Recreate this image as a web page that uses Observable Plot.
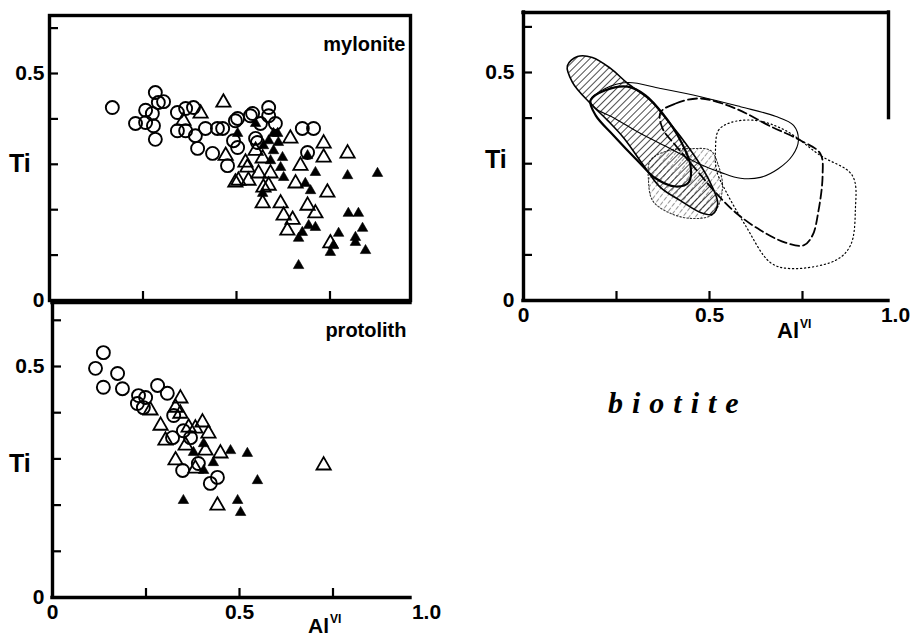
<!DOCTYPE html>
<html><head><meta charset="utf-8">
<script src="https://cdn.jsdelivr.net/npm/d3@7"></script>
<script src="https://cdn.jsdelivr.net/npm/@observablehq/plot@0.6"></script>
<style>
html,body{margin:0;padding:0;background:#fff;}
#root{position:relative;width:915px;height:637px;overflow:hidden;font-family:"Liberation Sans",Arial,sans-serif;}
.panel{position:absolute;}
.panel svg{overflow:visible;}
.lbl{position:absolute;font-weight:bold;color:#000;line-height:1;white-space:nowrap;font-family:"Liberation Sans",Arial,sans-serif;}
</style></head><body><div id="root"></div>
<script>
// ---------- data: mylonite (Al VI, Ti) ----------
const mylCircles = [[0.168,0.425],[0.283,0.458],[0.291,0.436],[0.305,0.438],[0.257,0.419],[0.275,0.412],[0.230,0.390],[0.257,0.392],[0.278,0.385],[0.283,0.355],[0.342,0.414],[0.364,0.423],[0.385,0.425],[0.342,0.374],[0.364,0.374],[0.390,0.363],[0.417,0.379],[0.449,0.379],[0.463,0.379],[0.497,0.396],[0.537,0.407],[0.396,0.335],[0.436,0.324],[0.476,0.297],[0.503,0.337],[0.556,0.348],[0.543,0.412],[0.586,0.425],[0.586,0.407],[0.503,0.401],[0.564,0.390],[0.604,0.390],[0.676,0.379],[0.706,0.379],[0.690,0.326],[0.551,0.357],[0.492,0.352]];
const mylOpenTri = [[0.465,0.436],[0.404,0.412],[0.358,0.396],[0.471,0.319],[0.524,0.304],[0.505,0.264],[0.532,0.264],[0.559,0.280],[0.644,0.357],[0.733,0.346],[0.733,0.315],[0.797,0.324],[0.671,0.297],[0.529,0.293],[0.497,0.260],[0.572,0.249],[0.591,0.280],[0.658,0.258],[0.743,0.238],[0.570,0.214],[0.618,0.214],[0.690,0.209],[0.711,0.192],[0.626,0.187],[0.650,0.178],[0.636,0.154],[0.751,0.126],[0.586,0.253],[0.551,0.330],[0.570,0.313]];
const mylFilledTri = [[0.551,0.390],[0.503,0.368],[0.599,0.368],[0.612,0.348],[0.572,0.341],[0.599,0.330],[0.623,0.315],[0.591,0.308],[0.618,0.293],[0.626,0.271],[0.690,0.319],[0.711,0.282],[0.797,0.275],[0.877,0.280],[0.684,0.258],[0.698,0.242],[0.570,0.236],[0.799,0.192],[0.826,0.192],[0.693,0.165],[0.711,0.161],[0.676,0.150],[0.666,0.137],[0.773,0.148],[0.759,0.121],[0.751,0.106],[0.837,0.159],[0.818,0.139],[0.818,0.128],[0.845,0.110],[0.666,0.077],[0.586,0.352],[0.610,0.368]];
// ---------- data: protolith ----------
const protoCircles = [[0.136,0.530],[0.115,0.496],[0.174,0.485],[0.136,0.455],[0.187,0.452],[0.230,0.437],[0.281,0.459],[0.307,0.442],[0.227,0.420],[0.249,0.433],[0.243,0.411],[0.324,0.394],[0.350,0.361],[0.369,0.346],[0.321,0.346],[0.348,0.275],[0.422,0.247],[0.441,0.260],[0.390,0.290]];
const protoOpenTri = [[0.342,0.431],[0.329,0.411],[0.262,0.405],[0.342,0.398],[0.401,0.379],[0.417,0.355],[0.302,0.340],[0.382,0.366],[0.364,0.368],[0.449,0.312],[0.382,0.279],[0.441,0.199],[0.725,0.286],[0.329,0.297],[0.409,0.318],[0.289,0.372],[0.356,0.329]];
const protoFilledTri = [[0.476,0.318],[0.521,0.312],[0.404,0.333],[0.377,0.314],[0.404,0.275],[0.548,0.253],[0.350,0.210],[0.495,0.210],[0.503,0.184],[0.430,0.292]];
// ---------- data: biotite field outlines ----------
const hatchMain = [[0.118,0.515],[0.145,0.535],[0.185,0.533],[0.234,0.509],[0.280,0.476],[0.341,0.439],[0.387,0.395],[0.430,0.351],[0.468,0.307],[0.503,0.257],[0.522,0.213],[0.508,0.189],[0.476,0.193],[0.422,0.219],[0.368,0.248],[0.323,0.296],[0.269,0.357],[0.226,0.395],[0.180,0.432],[0.132,0.478]];
const hatchLower = [[0.341,0.307],[0.390,0.329],[0.449,0.333],[0.503,0.329],[0.524,0.296],[0.535,0.252],[0.524,0.208],[0.503,0.186],[0.449,0.180],[0.390,0.193],[0.347,0.219],[0.336,0.263]];
const boldEllipse = [[0.180,0.439],[0.220,0.461],[0.280,0.469],[0.328,0.450],[0.374,0.410],[0.422,0.351],[0.449,0.296],[0.444,0.259],[0.409,0.250],[0.355,0.268],[0.306,0.307],[0.242,0.362],[0.194,0.406]];
const thinContour = [[0.180,0.439],[0.220,0.465],[0.280,0.478],[0.368,0.465],[0.476,0.447],[0.583,0.425],[0.677,0.404],[0.726,0.384],[0.739,0.351],[0.723,0.318],[0.685,0.289],[0.637,0.270],[0.583,0.268],[0.530,0.281],[0.476,0.298],[0.395,0.333],[0.315,0.366],[0.242,0.401],[0.194,0.421]];
const dashedContour = [[0.368,0.412],[0.409,0.432],[0.476,0.443],[0.570,0.421],[0.664,0.382],[0.745,0.351],[0.798,0.322],[0.804,0.274],[0.793,0.197],[0.777,0.143],[0.753,0.121],[0.704,0.127],[0.637,0.154],[0.570,0.193],[0.516,0.237],[0.462,0.289],[0.409,0.340],[0.374,0.377]];
const dottedContour = [[0.516,0.329],[0.524,0.373],[0.556,0.390],[0.624,0.395],[0.704,0.373],[0.798,0.318],[0.884,0.274],[0.892,0.197],[0.879,0.121],[0.839,0.088],[0.718,0.070],[0.664,0.083],[0.597,0.164],[0.543,0.241],[0.519,0.285]];
// ---------- ticks ----------
const yTicks = [0.1,0.2,0.3,0.4,0.5,0.6];
const xTicks = [0.25,0.5,0.75];
const yTickLabels = [0,0.5];
const xTickLabels = [0,0.5,1.0];
const fmt = d => d === 0 ? "0" : d.toFixed(1);

const root = document.getElementById("root");
const FONT = "Liberation Sans, Arial, sans-serif";
const X = d => d[0], Y = d => d[1];

function place(el, left, top){
  const w = document.createElement("div");
  w.className = "panel"; w.style.left = left+"px"; w.style.top = top+"px";
  w.appendChild(el); root.appendChild(w); return w;
}
function label(html, left, top, size, extra){
  const d = document.createElement("div");
  d.className = "lbl"; d.innerHTML = html;
  d.style.left = left+"px"; d.style.top = top+"px"; d.style.fontSize = size+"px";
  if (extra) Object.assign(d.style, extra);
  root.appendChild(d);
}
function tickMarks(innerW, innerH, len){
  return [
    Plot.tickY(yTicks, {y: d=>d, insetRight: innerW - len, strokeWidth: 2.2}),
    Plot.tickX(xTicks, {x: d=>d, insetTop: innerH - len, strokeWidth: 2.2})
  ];
}
function textOpts(extra){ return Object.assign({fontSize: 21, fontWeight: "bold", fill: "#000"}, extra); }
function scatterMarks(c, o, f){
  return [
    Plot.dot(c, {x: X, y: Y, r: 6.5, stroke: "#000", strokeWidth: 1.9, fill: "none"}),
    Plot.dot(o, {x: X, y: Y, symbol: "triangle", r: 5.3, stroke: "#000", strokeWidth: 1.8, fill: "none"}),
    Plot.dot(f, {x: X, y: Y, symbol: "triangle", r: 3.9, fill: "#000", stroke: "#000", strokeWidth: 0.6})
  ];
}
const lw = 3.4;

// ---------- top-left: mylonite ----------
{
  const W = 450, H = 330, mL = 49, mR = 40, mT = 15, mB = 30;
  const xMax = (W - mL - mR)/374, yMax = (H - mT - mB)/454;
  const svg = Plot.plot({
    width: W, height: H, marginLeft: mL, marginRight: mR, marginTop: mT, marginBottom: mB,
    style: {fontFamily: FONT, background: "transparent", overflow: "visible"},
    x: {domain: [0, xMax], axis: null}, y: {domain: [0, yMax], axis: null},
    marks: [
      ...tickMarks(W-mL-mR, H-mT-mB, 9),
      ...scatterMarks(mylCircles, mylOpenTri, mylFilledTri),
      Plot.frame({stroke: "#000", strokeWidth: lw}),
      Plot.text(yTickLabels, textOpts({y: d=>d, text: fmt, frameAnchor: "left", textAnchor: "end", dx: -5})),
      Plot.text(["mylonite"], textOpts({frameAnchor: "top-right", textAnchor: "end", lineAnchor: "top", dx: -5, dy: 21, fontSize: 20, letterSpacing: "0.8px"}))
    ]
  });
  place(svg, 0, 0);
}
// ---------- bottom-left: protolith ----------
{
  const W = 450, H = 357, mL = 52, mR = 40, mT = 22, mB = 40;
  const xMax = (W - mL - mR)/374, yMax = (H - mT - mB)/462;
  const svg = Plot.plot({
    width: W, height: H, marginLeft: mL, marginRight: mR, marginTop: mT, marginBottom: mB,
    style: {fontFamily: FONT, background: "transparent", overflow: "visible"},
    x: {domain: [0, xMax], axis: null}, y: {domain: [0, yMax], axis: null},
    marks: [
      ...tickMarks(W-mL-mR, H-mT-mB, 9),
      ...scatterMarks(protoCircles, protoOpenTri, protoFilledTri),
      Plot.ruleX([0], {stroke: "#000", strokeWidth: lw, strokeLinecap: "square"}),
      Plot.ruleY([0], {stroke: "#000", strokeWidth: lw, strokeLinecap: "square"}),
      Plot.ruleY([yMax], {stroke: "#000", strokeWidth: lw, strokeLinecap: "square"}),
      Plot.text(yTickLabels, textOpts({y: d=>d, text: fmt, frameAnchor: "left", textAnchor: "end", dx: -8})),
      Plot.text(xTickLabels, textOpts({x: d=>d, text: fmt, frameAnchor: "bottom", lineAnchor: "middle", dy: 15})),
      Plot.text(["protolith"], textOpts({frameAnchor: "top-right", textAnchor: "end", lineAnchor: "top", dx: -4, dy: 20, fontSize: 20, letterSpacing: "0.6px"}))
    ]
  });
  place(svg, 0, 280);
}
// ---------- right: biotite fields ----------
{
  const W = 445, H = 340, mL = 53, mR = 27, mT = 12, mB = 40;
  const xMax = (W - mL - mR)/372, yMax = (H - mT - mB)/456;
  const cur = "catmull-rom-closed";
  const svg = Plot.plot({
    width: W, height: H, marginLeft: mL, marginRight: mR, marginTop: mT, marginBottom: mB,
    style: {fontFamily: FONT, background: "transparent", overflow: "visible"},
    x: {domain: [0, xMax], axis: null}, y: {domain: [0, yMax], axis: null},
    marks: [
      ...tickMarks(W-mL-mR, H-mT-mB, 9),
      Plot.line(hatchLower, {x: X, y: Y, curve: cur, fill: "url(#hatchB)", stroke: "#333", strokeWidth: 1.1, strokeDasharray: "1.5 2"}),
      Plot.line(hatchMain, {x: X, y: Y, curve: cur, fill: "url(#hatchA)", stroke: "#000", strokeWidth: 1.6}),
      Plot.line(thinContour, {x: X, y: Y, curve: cur, stroke: "#000", strokeWidth: 1.1}),
      Plot.line(dashedContour, {x: X, y: Y, curve: cur, stroke: "#000", strokeWidth: 1.8, strokeDasharray: "9 4"}),
      Plot.line(dottedContour, {x: X, y: Y, curve: cur, stroke: "#000", strokeWidth: 1.2, strokeDasharray: "1.2 2.8"}),
      Plot.line(boldEllipse, {x: X, y: Y, curve: cur, stroke: "#000", strokeWidth: 2.2}),
      Plot.ruleX([0], {stroke: "#000", strokeWidth: lw, strokeLinecap: "square"}),
      Plot.ruleY([0], {stroke: "#000", strokeWidth: lw, strokeLinecap: "square"}),
      Plot.ruleY([yMax], {stroke: "#000", strokeWidth: lw, strokeLinecap: "square"}),
      Plot.ruleX([xMax], {y1: 0.4, y2: yMax, stroke: "#000", strokeWidth: lw, strokeLinecap: "square"}),
      Plot.text(yTickLabels, textOpts({y: d=>d, text: fmt, frameAnchor: "left", textAnchor: "end", dx: -9})),
      Plot.text(xTickLabels, textOpts({x: d=>d, text: fmt, frameAnchor: "bottom", lineAnchor: "middle", dy: 15}))
    ]
  });
  const ns = "http://www.w3.org/2000/svg";
  const defs = document.createElementNS(ns, "defs");
  defs.innerHTML = '<pattern id="hatchA" patternUnits="userSpaceOnUse" width="5" height="5" patternTransform="rotate(45)"><line x1="0" y1="0" x2="0" y2="5" stroke="#000" stroke-width="1.4"/></pattern>' +
    '<pattern id="hatchB" patternUnits="userSpaceOnUse" width="5" height="6" patternTransform="rotate(38)"><line x1="0" y1="0" x2="0" y2="6" stroke="#444" stroke-width="1.1" stroke-dasharray="2.5 1.5"/></pattern>';
  svg.insertBefore(defs, svg.firstChild);
  place(svg, 470, 0);
}
// ---------- axis titles ----------
label("Ti", 9, 151, 25);
label("Ti", 9, 451, 25);
label("Ti", 485, 147, 25);
const sup = '<span style="font-size:12px;vertical-align:top;position:relative;top:-2px;margin-left:1px">VI</span>';
label('Al' + sup, 308, 615, 21);
label('Al' + sup, 777, 320, 22);
label("biotite", 608, 388, 30, {fontFamily: '"Liberation Serif","Times New Roman",serif', fontStyle: "italic", letterSpacing: "9px"});
</script></body></html>
